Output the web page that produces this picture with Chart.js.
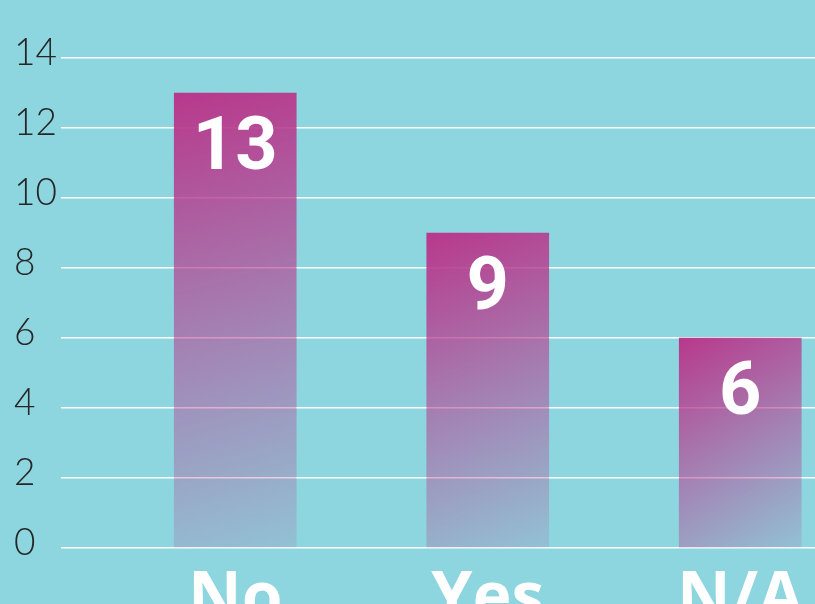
<!DOCTYPE html>
<html>
<head>
<meta charset="utf-8">
<script src="https://cdn.jsdelivr.net/npm/chart.js@4/dist/chart.umd.min.js"></script>
<style>
  html, body { margin: 0; padding: 0; background: #8dd5df; overflow: hidden; }
  #wrap { width: 815px; height: 604px; position: relative; }
</style>
</head>
<body>
<div id="wrap"><canvas id="grafico"></canvas></div>
<script>
// Dados do gráfico
const categorias = ['No', 'Yes', 'N/A'];
const valores = [13, 9, 6];
const ticksY = [0, 2, 4, 6, 8, 10, 12, 14];

// Degradê diagonal por barra (magenta em cima, quase transparente embaixo)
function gradienteBarra(context) {
    const chart = context.chart;
    const { ctx, chartArea, scales } = chart;
    if (!chartArea) return 'rgba(184,56,140,0.8)';
    const i = context.dataIndex;
    const meio = scales.x.getPixelForValue(i);
    const topo = scales.y.getPixelForValue(valores[i]);
    const base = scales.y.getPixelForValue(0);
    const g = ctx.createLinearGradient(meio - 61, topo, meio + 61, base);
    g.addColorStop(0, 'rgba(184,56,140,1)');
    g.addColorStop(0.5, 'rgba(184,56,140,0.55)');
    g.addColorStop(1, 'rgba(184,56,140,0.12)');
    return g;
}

// Rótulos de valor dentro das barras
const rotulosValor = {
    id: 'rotulosValor',
    afterDatasetsDraw(chart) {
        const ctx = chart.ctx;
        const meta = chart.getDatasetMeta(0);
        ctx.save();
        ctx.fillStyle = '#ffffff';
        ctx.font = 'bold 74px Roboto, "Open Sans", sans-serif';
        ctx.textAlign = 'center';
        ctx.textBaseline = 'middle';
        meta.data.forEach((barra, i) => {
            ctx.fillText(String(valores[i]), barra.x, barra.y + 57);
        });
        ctx.restore();
    }
};

const ctx = document.getElementById('grafico').getContext('2d');
new Chart(ctx, {
    type: 'bar',
    data: {
        datasets: [{
            data: valores.map((v, i) => ({ x: i, y: v })),
            backgroundColor: gradienteBarra,
            borderWidth: 0,
            barThickness: 122
        }]
    },
    options: {
        responsive: true,
        maintainAspectRatio: false,
        animation: false,
        layout: { padding: { top: 58, left: 14, right: 0, bottom: 0 } },
        plugins: {
            legend: { display: false },
            tooltip: { enabled: false }
        },
        scales: {
            x: {
                type: 'linear',
                offset: false,
                min: -0.69,
                max: 2.296,
                grid: { display: false, offset: false },
                border: { display: false },
                afterBuildTicks: (scale) => {
                    scale.ticks = categorias.map((c, i) => ({ value: i }));
                },
                afterFit: (scale) => { scale.height = 56; },
                ticks: {
                    color: '#ffffff',
                    padding: 5,
                    maxRotation: 0,
                    autoSkip: false,
                    font: { family: '"Open Sans", Lato, sans-serif', size: 66, weight: 'bold' },
                    callback: (value) => categorias[value] ?? ''
                }
            },
            y: {
                min: 0,
                max: 14,
                afterBuildTicks: (scale) => {
                    scale.ticks = ticksY.map(v => ({ value: v }));
                },
                afterFit: (scale) => { scale.width = 47; },
                grid: { color: '#ffffff', lineWidth: 1.5, drawTicks: false },
                border: { display: false },
                ticks: {
                    color: '#262626',
                    crossAlign: 'far',
                    labelOffset: -5,
                    font: { family: 'Lato, "Open Sans", sans-serif', size: 37, weight: 300 }
                }
            }
        }
    },
    plugins: [rotulosValor]
});
</script>
</body>
</html>
